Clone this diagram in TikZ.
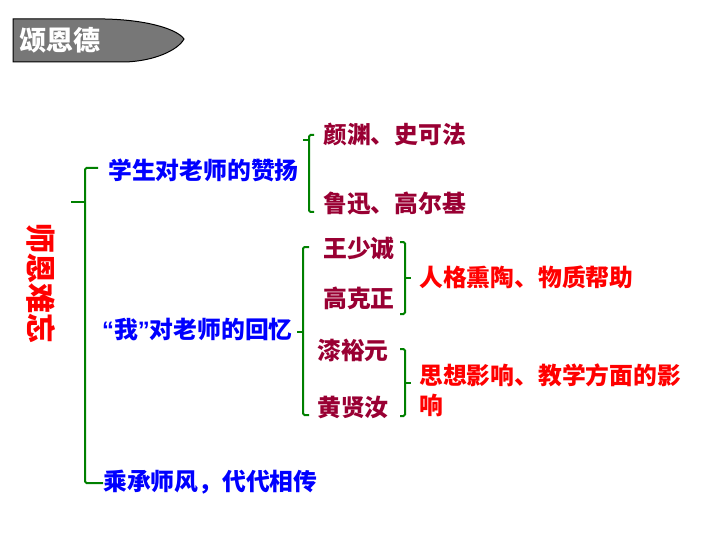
\documentclass[tikz,border=0pt]{standalone}
\usepackage{fontspec}
\newfontfamily\cjk{Noto Sans CJK SC}
\newfontfamily\lat{Liberation Sans}
\definecolor{brk}{RGB}{0,128,0}
\definecolor{lvl}{RGB}{0,0,255}
\definecolor{who}{RGB}{153,0,51}
\definecolor{hot}{RGB}{255,0,0}
\definecolor{tab}{RGB}{119,119,119}
\begin{document}
\begin{tikzpicture}[x=1pt,y=-1pt,
  every node/.style={inner sep=0pt,font=\cjk\bfseries},
  topic/.style={anchor=west,text=lvl,font=\cjk\bfseries\fontsize{23.8}{28}\selectfont},
  person/.style={anchor=west,text=who,font=\cjk\bfseries\fontsize{23.8}{28}\selectfont},
  effect/.style={anchor=west,text=hot,align=left,font=\cjk\bfseries\fontsize{23.8}{30}\selectfont},
  brace/.style={draw=brk,line width=2pt,rounded corners=1.5pt}]
  \useasboundingbox (0,0) rectangle (720,540);
  % title tab
  \draw[fill=tab,line width=1pt] (13,19) -- (105,19)
    .. controls (150,20) and (178,30) .. (184,39)
    .. controls (178,50) and (155,61) .. (125,62) -- (13,62) -- cycle;
  \node[anchor=west,text=white,font=\cjk\bfseries\fontsize{27}{30}\selectfont] (title) at (19,40) {颂恩德};
  % main topic
  \node[rotate=-90,text=hot,font=\cjk\bfseries\fontsize{30}{34}\selectfont] (main) at (41,284) {师恩难忘};
  \draw[brace] (98,168) -- (85,168) -- (85,483) -- (103,483);
  \draw[brace] (85,202) -- (71,202);
  % first level
  \node[topic] (praise) at (108,170) {学生对老师的赞扬};
  \node[topic] (memory) at (102,330) {{\lat“}我{\lat”}对老师的回忆};
  \node[topic] (legacy) at (103,482) {乘承师风，代代相传};
  % praise
  \draw[brace] (314,135) -- (309,135) -- (309,212) -- (314,212);
  \draw[brace] (309,140) -- (303,140);
  \node[person] (yan) at (323,135) {颜渊、史可法};
  \node[person] (lu) at (323,204) {鲁迅、高尔基};
  % memory
  \draw[brace] (309,247) -- (303,247) -- (303,415) -- (309,415);
  \draw[brace] (303,332) -- (297,332);
  \node[person] (wang) at (323,248) {王少诚};
  \node[person] (gao) at (323,298) {高克正};
  \node[person] (qi) at (317,350) {漆裕元};
  \node[person] (huang) at (317,407) {黄贤汝};
  \draw[brace] (400,242) -- (405,242) -- (405,314) -- (400,314);
  \draw[brace] (405,278) -- (411,278);
  \draw[brace] (400,349) -- (405,349) -- (405,416) -- (400,416);
  \draw[brace] (405,383) -- (411,383);
  \node[effect] (care) at (419,277) {人格熏陶、物质帮助};
  \node[effect] (mind) at (419,390) {思想影响、教学方面的影\\响};
\end{tikzpicture}
\end{document}
